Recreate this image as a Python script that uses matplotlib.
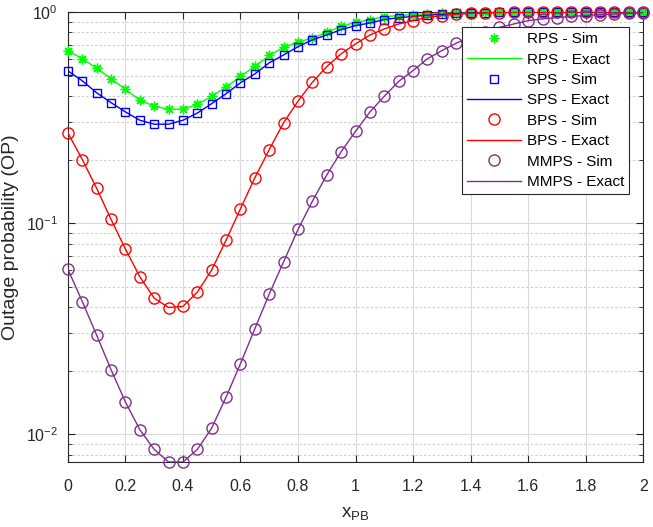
import matplotlib
matplotlib.use('Agg')
import matplotlib.pyplot as plt
from matplotlib.ticker import LogLocator, NullLocator, NullFormatter

plt.rcParams['font.family'] = ['Liberation Sans', 'DejaVu Sans']
plt.rcParams['mathtext.default'] = 'regular'

# x_PB sample points (every 0.05)
x_pb = [0.00, 0.05, 0.10, 0.15, 0.20, 0.25, 0.30, 0.35, 0.40, 0.45,
        0.50, 0.55, 0.60, 0.65, 0.70, 0.75, 0.80, 0.85, 0.90, 0.95,
        1.00, 1.05, 1.10, 1.15, 1.20, 1.25, 1.30, 1.35, 1.40, 1.45,
        1.50, 1.55, 1.60, 1.65, 1.70, 1.75, 1.80, 1.85, 1.90, 1.95, 2.00]

# outage probability
rps = [0.656, 0.600, 0.542, 0.483, 0.430, 0.382, 0.358, 0.346, 0.346, 0.365,
       0.399, 0.441, 0.495, 0.553, 0.622, 0.680, 0.719, 0.753, 0.801, 0.855,
       0.893, 0.920, 0.950, 0.962, 0.972, 0.980, 0.986, 0.990, 0.993, 0.995,
       0.997, 0.998, 0.998, 0.999, 0.999, 0.999, 1.0, 1.0, 1.0, 1.0, 1.0]
sps = [0.526, 0.472, 0.414, 0.372, 0.336, 0.307, 0.294, 0.294, 0.307, 0.332,
       0.368, 0.410, 0.462, 0.509, 0.574, 0.626, 0.685, 0.738, 0.778, 0.825,
       0.861, 0.887, 0.920, 0.940, 0.952, 0.966, 0.975, 0.984, 0.990, 0.994,
       0.996, 0.998, 0.998, 0.999, 0.999, 0.999, 1.0, 1.0, 1.0, 1.0, 1.0]
bps = [0.267, 0.200, 0.146, 0.104, 0.0753, 0.0557, 0.0441, 0.0398, 0.0403, 0.0471,
       0.0600, 0.0831, 0.117, 0.164, 0.223, 0.299, 0.378, 0.465, 0.551, 0.634,
       0.706, 0.778, 0.831, 0.877, 0.910, 0.943, 0.960, 0.975, 0.985, 0.990,
       0.994, 0.996, 0.998, 0.999, 0.999, 1.0, 1.0, 1.0, 1.0, 1.0, 1.0]
mmps = [0.0604, 0.0425, 0.0294, 0.0202, 0.0142, 0.0105, 0.00847, 0.00738, 0.00738, 0.00847,
        0.0107, 0.0150, 0.0216, 0.0316, 0.0462, 0.0656, 0.0933, 0.127, 0.169, 0.218,
        0.272, 0.336, 0.399, 0.469, 0.528, 0.600, 0.656, 0.711, 0.764, 0.807,
        0.846, 0.877, 0.910, 0.927, 0.940, 0.952, 0.962, 0.971, 0.978, 0.985, 0.990]

series = [
    ('RPS', rps, '#00ff00', (8, 2, 0), 7),
    ('SPS', sps, '#0000ff', 's', 6),
    ('BPS', bps, '#ff0000', 'o', 8),
    ('MMPS', mmps, '#7e2f8e', 'o', 8),
]

fig = plt.figure(figsize=(6.53, 5.27), dpi=100)
ax = fig.add_axes([0.104, 0.1233, 0.881, 0.854])

for name, vals, col, mk, ms in series:
    ax.plot(x_pb, vals, linestyle='none', marker=mk, markersize=ms,
            markerfacecolor='none', markeredgecolor=col, markeredgewidth=1.0,
            label=name + ' - Sim', clip_on=False, zorder=3)
    ax.plot(x_pb, vals, '-', color=col, linewidth=1.0,
            label=name + ' - Exact', zorder=3)

ax.set_yscale('log')
ax.set_xlim(0, 2)
ax.set_ylim(0.00738, 1.0)
ax.set_xticks([0, 0.2, 0.4, 0.6, 0.8, 1, 1.2, 1.4, 1.6, 1.8, 2])
ax.set_xticklabels(['0', '0.2', '0.4', '0.6', '0.8', '1', '1.2', '1.4', '1.6', '1.8', '2'])
ax.xaxis.set_minor_locator(NullLocator())
ax.yaxis.set_major_locator(LogLocator(base=10, numticks=10))
ax.yaxis.set_minor_locator(LogLocator(base=10, subs=range(2, 10), numticks=20))
ax.yaxis.set_minor_formatter(NullFormatter())

ax.grid(True, which='major', color='#dadada', linewidth=0.8, zorder=0)
ax.grid(True, which='minor', axis='y', color='#cccccc', linestyle=(0, (2, 2)), linewidth=0.8, zorder=0)
ax.set_axisbelow(True)

ax.tick_params(which='both', direction='in', top=True, right=True,
               colors='#262626', labelcolor='#262626')
ax.tick_params(which='major', length=5, labelsize=11.5)
ax.tick_params(axis='x', which='major', pad=12)
ax.tick_params(axis='y', which='major', pad=7)
ax.tick_params(which='minor', length=3)
for sp in ax.spines.values():
    sp.set_color('#262626')
    sp.set_linewidth(0.8)

ax.set_xlabel('x$_{PB}$', fontsize=13.5, color='#262626', labelpad=8)
ax.set_ylabel('Outage probability (OP)', fontsize=14, color='#262626', labelpad=5)

leg = ax.legend(loc='upper right', bbox_to_anchor=(0.976, 0.967), borderaxespad=0,
                fontsize=11, handlelength=3.5, handletextpad=0.4,
                labelspacing=0.42, borderpad=0.35, fancybox=False,
                framealpha=1, edgecolor='#262626')
leg.get_frame().set_linewidth(0.8)

fig.savefig('out.png', dpi=100)
